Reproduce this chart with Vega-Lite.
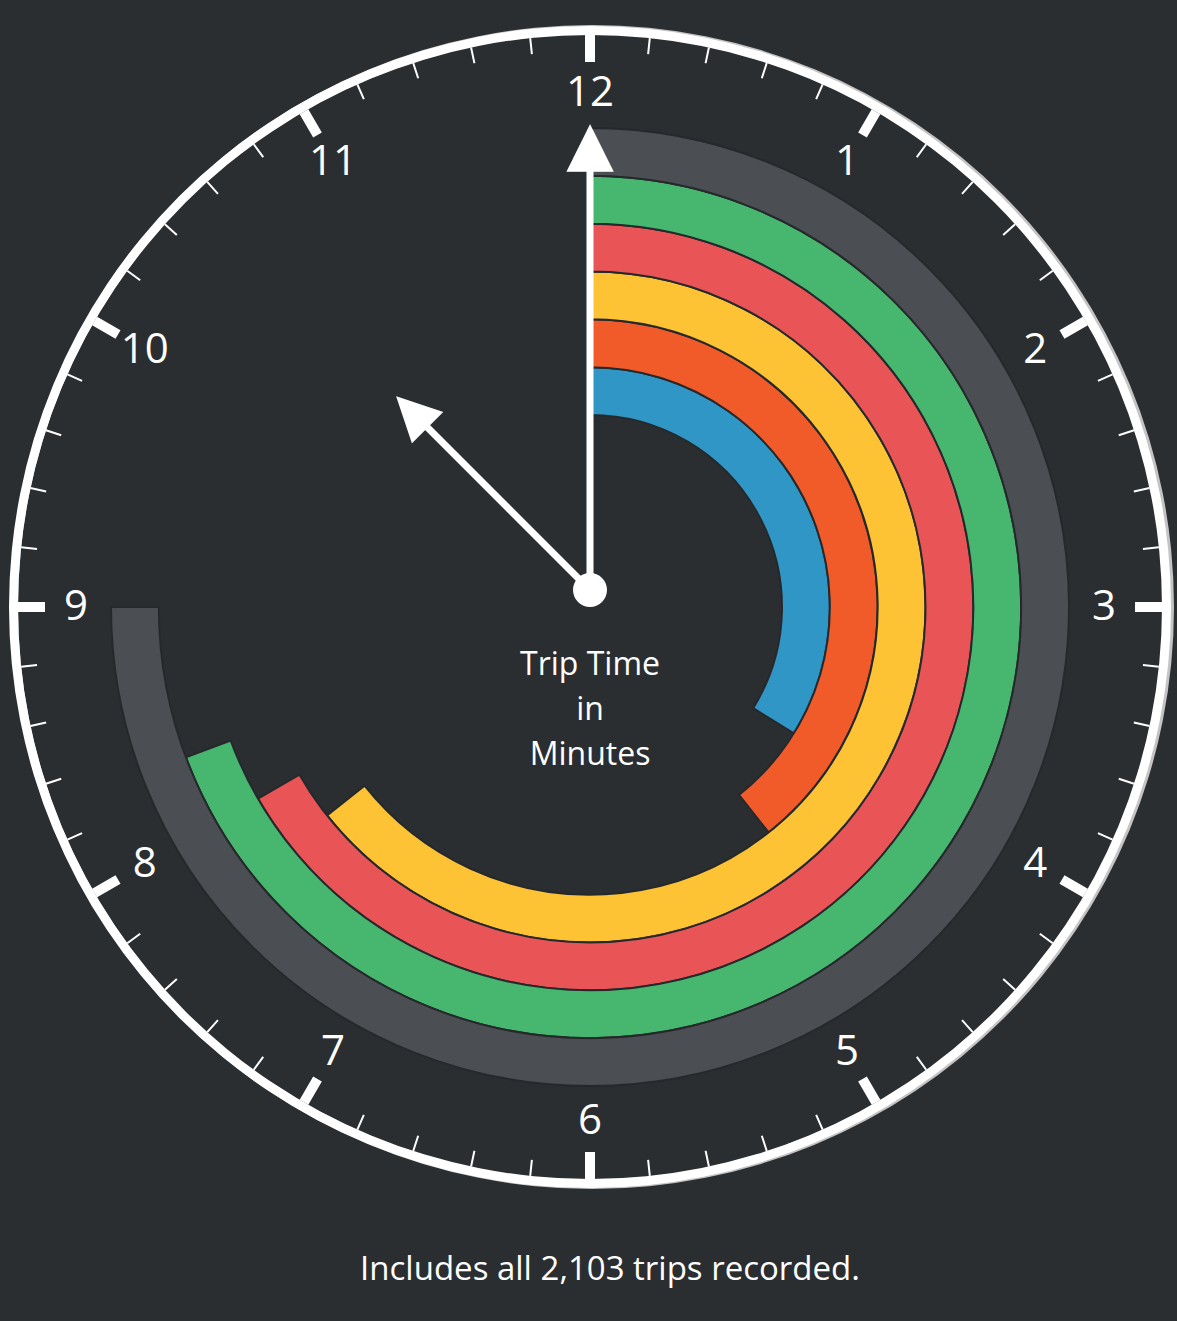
{
  "$schema": "https://vega.github.io/schema/vega-lite/v6.json",
  "width": 1174,
  "height": 1214,
  "autosize": {"type": "none"},
  "padding": {"left": 3, "top": 0, "right": 0, "bottom": 107},
  "background": "#2b2e31",
  "config": {"view": {"stroke": null}, "text": {"font": "Open Sans"}},
  "layer": [
    {
      "data": {"values": [{"face": "clock", "from": 0, "to": 60}]},
      "layer": [
        {
          "mark": {"type": "arc", "radius": 582, "radius2": 574, "fill": "#c4c4c4", "xOffset": 2},
          "encoding": {
            "theta": {"field": "from", "type": "quantitative", "stack": null, "scale": {"domain": [0, 60], "range": [0, 6.283185307179586]}},
            "theta2": {"field": "to"}
          }
        },
        {
          "mark": {"type": "arc", "radius": 581, "radius2": 572, "fill": "#ffffff"},
          "encoding": {
            "theta": {"field": "from", "type": "quantitative", "stack": null, "scale": {"domain": [0, 60], "range": [0, 6.283185307179586]}},
            "theta2": {"field": "to"}
          }
        }
      ]
    },
    {
      "data": {"values": [
        {"minute": 1}, {"minute": 2}, {"minute": 3}, {"minute": 4},
        {"minute": 6}, {"minute": 7}, {"minute": 8}, {"minute": 9},
        {"minute": 11}, {"minute": 12}, {"minute": 13}, {"minute": 14},
        {"minute": 16}, {"minute": 17}, {"minute": 18}, {"minute": 19},
        {"minute": 21}, {"minute": 22}, {"minute": 23}, {"minute": 24},
        {"minute": 26}, {"minute": 27}, {"minute": 28}, {"minute": 29},
        {"minute": 31}, {"minute": 32}, {"minute": 33}, {"minute": 34},
        {"minute": 36}, {"minute": 37}, {"minute": 38}, {"minute": 39},
        {"minute": 41}, {"minute": 42}, {"minute": 43}, {"minute": 44},
        {"minute": 46}, {"minute": 47}, {"minute": 48}, {"minute": 49},
        {"minute": 51}, {"minute": 52}, {"minute": 53}, {"minute": 54},
        {"minute": 56}, {"minute": 57}, {"minute": 58}, {"minute": 59}
      ]},
      "mark": {"type": "arc", "radius": 572, "radius2": 556, "filled": false, "stroke": "#ffffff", "strokeWidth": 2},
      "encoding": {
        "theta": {"field": "minute", "type": "quantitative", "stack": null, "scale": {"domain": [0, 60], "range": [0, 6.283185307179586]}},
        "theta2": {"field": "minute"}
      }
    },
    {
      "data": {"values": [
        {"hour": 1, "label": "1"}, {"hour": 2, "label": "2"}, {"hour": 3, "label": "3"},
        {"hour": 4, "label": "4"}, {"hour": 5, "label": "5"}, {"hour": 6, "label": "6"},
        {"hour": 7, "label": "7"}, {"hour": 8, "label": "8"}, {"hour": 9, "label": "9"},
        {"hour": 10, "label": "10"}, {"hour": 11, "label": "11"}, {"hour": 12, "label": "12"}
      ]},
      "layer": [
        {
          "mark": {"type": "arc", "radius": 572, "radius2": 545, "filled": false, "stroke": "#ffffff", "strokeWidth": 10},
          "encoding": {
            "theta": {"field": "hour", "type": "quantitative", "stack": null, "scale": {"domain": [0, 12], "range": [0, 6.283185307179586]}},
            "theta2": {"field": "hour"}
          }
        },
        {
          "mark": {"type": "text", "radius": 514, "fontSize": 42, "fill": "#ffffff", "align": "center", "baseline": "middle"},
          "encoding": {
            "theta": {"field": "hour", "type": "quantitative", "stack": null, "scale": {"domain": [0, 12], "range": [0, 6.283185307179586]}},
            "text": {"field": "label"}
          }
        }
      ],
      "resolve": {"scale": {"theta": "independent"}}
    },
    {
      "data": {"values": [
        {"group": "Series 1", "minutes": 20.3},
        {"group": "Series 2", "minutes": 23.6},
        {"group": "Series 3", "minutes": 38.6},
        {"group": "Series 4", "minutes": 40.0},
        {"group": "Series 5", "minutes": 41.6},
        {"group": "Series 6", "minutes": 45.0}
      ]},
      "mark": {"type": "arc", "stroke": "#26292c", "strokeWidth": 2},
      "encoding": {
        "theta": {"field": "minutes", "type": "quantitative", "stack": null, "scale": {"domain": [0, 60], "range": [0, 6.283185307179586]}},
        "theta2": {"value": 0},
        "radius": {"field": "group", "type": "nominal", "scale": {"type": "band", "domain": ["Series 1", "Series 2", "Series 3", "Series 4", "Series 5", "Series 6"], "range": [192, 479], "paddingInner": 0, "paddingOuter": 0}},
        "color": {"field": "group", "type": "nominal", "legend": null, "scale": {"domain": ["Series 1", "Series 2", "Series 3", "Series 4", "Series 5", "Series 6"], "range": ["#3096c5", "#f15b29", "#fec334", "#e95556", "#47b76f", "#4b4e53"]}}
      }
    },
    {
      "data": {"values": [{"hand": "minute", "at": 0}]},
      "layer": [
        {
          "mark": {"type": "arc", "radius": 435, "radius2": 0, "filled": false, "stroke": "#ffffff", "strokeWidth": 7, "yOffset": -17},
          "encoding": {
            "theta": {"field": "at", "type": "quantitative", "stack": null, "scale": {"domain": [0, 60], "range": [0, 6.283185307179586]}},
            "theta2": {"field": "at"}
          }
        },
        {
          "mark": {"type": "text", "text": "▲", "font": "DejaVu Sans", "radius": 445, "fontSize": 62, "fill": "#ffffff", "align": "center", "baseline": "middle", "angle": 0, "yOffset": -17},
          "encoding": {
            "theta": {"field": "at", "type": "quantitative", "stack": null, "scale": {"domain": [0, 60], "range": [0, 6.283185307179586]}}
          }
        }
      ]
    },
    {
      "data": {"values": [{"hand": "hour", "at": 52.5}]},
      "layer": [
        {
          "mark": {"type": "arc", "radius": 245, "radius2": 0, "filled": false, "stroke": "#ffffff", "strokeWidth": 7, "yOffset": -17},
          "encoding": {
            "theta": {"field": "at", "type": "quantitative", "stack": null, "scale": {"domain": [0, 60], "range": [0, 6.283185307179586]}},
            "theta2": {"field": "at"}
          }
        },
        {
          "mark": {"type": "text", "text": "▲", "font": "DejaVu Sans", "radius": 254, "fontSize": 58, "fill": "#ffffff", "align": "center", "baseline": "middle", "angle": -45, "yOffset": -17},
          "encoding": {
            "theta": {"field": "at", "type": "quantitative", "stack": null, "scale": {"domain": [0, 60], "range": [0, 6.283185307179586]}}
          }
        }
      ]
    },
    {
      "data": {"values": [{"part": "pivot", "from": 0, "to": 60}]},
      "mark": {"type": "arc", "radius": 17, "fill": "#ffffff", "yOffset": -17},
      "encoding": {
        "theta": {"field": "from", "type": "quantitative", "stack": null, "scale": {"domain": [0, 60], "range": [0, 6.283185307179586]}},
        "theta2": {"field": "to"}
      }
    },
    {
      "data": {"values": [{"caption": "Trip Time\nin\nMinutes"}]},
      "mark": {"type": "text", "fontSize": 32, "fill": "#ffffff", "align": "center", "baseline": "middle", "lineBreak": "\n", "lineHeight": 45, "dy": 58},
      "encoding": {"text": {"field": "caption"}}
    },
    {
      "data": {"values": [{"note": "Includes all 2,103 trips recorded."}]},
      "mark": {"type": "text", "fontSize": 33, "fill": "#ffffff", "align": "center", "baseline": "middle", "dy": 663, "dx": 20},
      "encoding": {"text": {"field": "note"}}
    }
  ],
  "resolve": {"scale": {"theta": "independent", "radius": "independent", "color": "independent"}}
}
